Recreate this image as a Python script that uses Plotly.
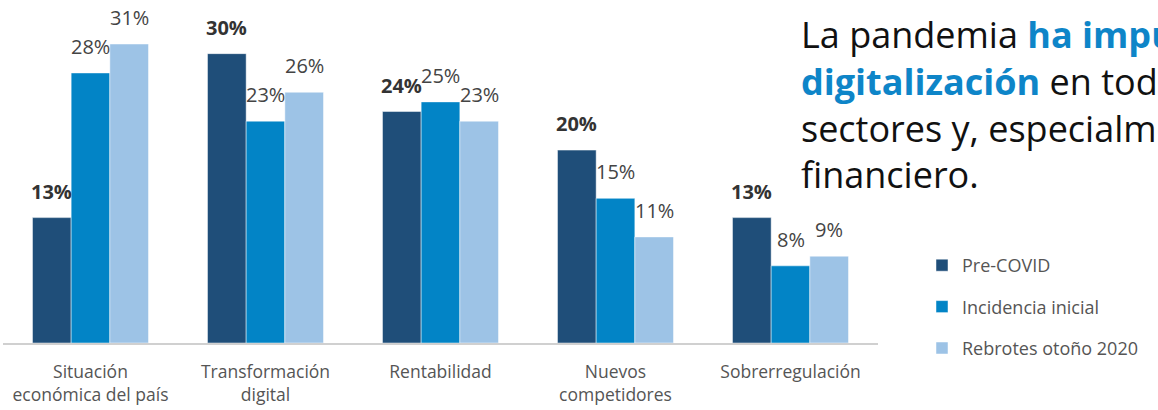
import plotly.graph_objects as go

categories = ["Situación<br>económica del país", "Transformación<br>digital", "Rentabilidad",
              "Nuevos<br>competidores", "Sobrerregulación"]
series_names = ["Pre-COVID", "Incidencia inicial", "Rebrotes otoño 2020"]
pre_covid = [13, 30, 24, 20, 13]
incidencia = [28, 23, 25, 15, 8]
rebrotes = [31, 26, 23, 11, 9]
series_values = [pre_covid, incidencia, rebrotes]
colors = ["#1F4E79", "#0284C6", "#9DC3E6"]

FONT = "Open Sans"
W, H = 1158, 410
ml, mr, mt, mb = 3, 280, 10, 67
bargap = 0.337
ymax = (H - mt - mb) / 9.645

fig = go.Figure()
for name, vals, col in zip(series_names, series_values, colors):
    fig.add_trace(go.Bar(
        x=list(range(len(categories))), y=vals, name=name, legendgroup=name,
        marker=dict(color=col, line=dict(color="rgba(255,255,255,0.6)", width=0.8)),
        hoverinfo="skip",
    ))

bw = (1 - bargap) / 3
annotations = []
for i, vals in enumerate(series_values):
    for j, v in enumerate(vals):
        annotations.append(dict(
            x=j + (i - 1) * bw, y=v, xref="x", yref="y",
            text=(f"<b>{v}%</b>" if i == 0 else f"{v}%"),
            showarrow=False, xanchor="center", yanchor="bottom", yshift=11,
            font=dict(family=FONT, size=20, color="#333333" if i == 0 else "#444444"),
        ))

annotations.append(dict(
    xref="paper", yref="paper", x=(799 - ml) / (W - ml - mr), y=1.006,
    xanchor="left", yanchor="top", align="left", showarrow=False,
    text=("La pandemia <b><span style='color:#0E85C8'>ha impulsado la</span></b><br>"
          "<b><span style='color:#0E85C8'>digitalización</span></b> en todos los<br>"
          "sectores y, especialmente, el<br>"
          "financiero."),
    font=dict(family=FONT, size=36, color="#111111"),
))

fig.update_layout(
    width=W, height=H,
    margin=dict(l=ml, r=mr, t=mt, b=mb),
    paper_bgcolor="white", plot_bgcolor="white",
    barmode="group", bargap=bargap, bargroupgap=0,
    font=dict(family=FONT, color="#555555"),
    xaxis=dict(
        tickmode="array", tickvals=list(range(len(categories))), ticktext=categories,
        range=[-0.5, len(categories) - 0.5],
        showline=True, linecolor="#D0D0D0", linewidth=2,
        showgrid=False, zeroline=False, ticks="", ticklabelstandoff=12,
        tickfont=dict(family=FONT, size=17.5, color="#555555"),
    ),
    yaxis=dict(range=[0, ymax], visible=False, showgrid=False, zeroline=False),
    legend=dict(
        xref="container", yref="container", x=922 / W, y=1 - 247 / H,
        xanchor="left", yanchor="top", traceorder="grouped", tracegroupgap=15,
        font=dict(family=FONT, size=18, color="#555555"),
        bgcolor="rgba(0,0,0,0)",
    ),
    annotations=annotations,
    showlegend=True,
)

fig.write_html("out.html")
